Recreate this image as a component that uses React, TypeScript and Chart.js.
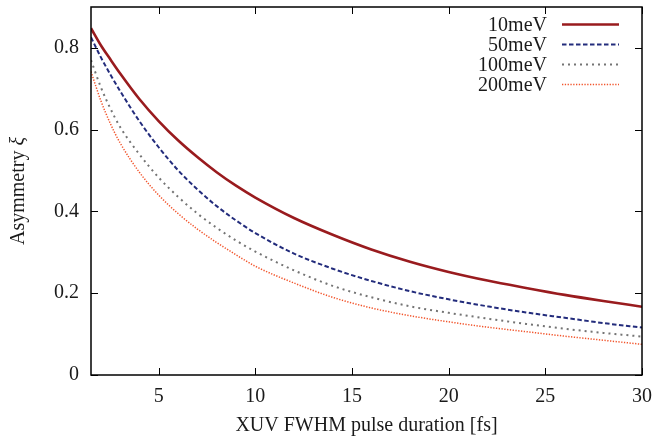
import React, { useEffect, useRef } from "react";
import { Chart, registerables } from "chart.js";

Chart.register(...registerables);

const xValues = [1.5, 2, 2.5, 3, 4, 5, 6, 7, 8, 9, 10, 12, 14, 16, 18, 20, 22, 24, 26, 28, 30];
const series10 = [0.848, 0.807, 0.772, 0.738, 0.675, 0.621, 0.574, 0.533, 0.496, 0.463, 0.434, 0.384, 0.343, 0.307, 0.277, 0.252, 0.231, 0.213, 0.196, 0.181, 0.167];
const series50 = [0.826, 0.778, 0.735, 0.695, 0.621, 0.557, 0.501, 0.454, 0.413, 0.378, 0.347, 0.297, 0.26, 0.23, 0.205, 0.185, 0.168, 0.153, 0.14, 0.127, 0.116];
const series100 = [0.77, 0.705, 0.652, 0.607, 0.54, 0.483, 0.436, 0.395, 0.36, 0.329, 0.302, 0.256, 0.218, 0.19, 0.168, 0.152, 0.138, 0.125, 0.113, 0.103, 0.094];
const series200 = [0.742, 0.672, 0.615, 0.568, 0.496, 0.44, 0.395, 0.357, 0.324, 0.294, 0.266, 0.225, 0.19, 0.164, 0.145, 0.13, 0.117, 0.106, 0.095, 0.085, 0.075];
const seriesLabels = ["10meV", "50meV", "100meV", "200meV"];
const xTicks = [5, 10, 15, 20, 25, 30];
const yTicks = [0, 0.2, 0.4, 0.6, 0.8];
const yTickLabels = ["0", "0.2", "0.4", "0.6", "0.8"];
const xTitle = "XUV FWHM pulse duration [fs]";
const yTitleText = "Asymmetry ";
const yTitleSymbol = "ξ";

const FONT = "'Liberation Serif', 'DejaVu Serif', serif";
const TEXT = "#1a1a1a";

const frameAndTicks = {
  id: "frameAndTicks",
  afterDatasetsDraw(chart: any) {
    const { ctx, chartArea } = chart;
    const { left, right, top, bottom } = chartArea;
    const xs = chart.scales.x;
    const ys = chart.scales.y;
    const len = 7;
    ctx.save();
    ctx.strokeStyle = "#000";
    ctx.lineWidth = 1;
    ctx.beginPath();
    xs.ticks.forEach((t: any) => {
      const px = Math.round(xs.getPixelForValue(t.value)) + 0.5;
      ctx.moveTo(px, bottom);
      ctx.lineTo(px, bottom - len);
      ctx.moveTo(px, top);
      ctx.lineTo(px, top + len);
    });
    ys.ticks.forEach((t: any) => {
      const py = Math.round(ys.getPixelForValue(t.value)) + 0.5;
      ctx.moveTo(left, py);
      ctx.lineTo(left + len, py);
      ctx.moveTo(right, py);
      ctx.lineTo(right - len, py);
    });
    ctx.stroke();
    ctx.lineWidth = 1.5;
    ctx.strokeRect(left, top, right - left, bottom - top);
    ctx.restore();
  },
};

const customLegend = {
  id: "customLegend",
  afterDraw(chart: any) {
    const { ctx } = chart;
    ctx.save();
    ctx.font = `20px ${FONT}`;
    ctx.textAlign = "right";
    ctx.textBaseline = "middle";
    chart.data.datasets.forEach((ds: any, i: number) => {
      const y = 24.5 + i * 20;
      ctx.fillStyle = TEXT;
      ctx.fillText(ds.label, 547, y + 1);
      ctx.beginPath();
      ctx.strokeStyle = ds.borderColor;
      ctx.lineWidth = ds.borderWidth;
      ctx.setLineDash(ds.borderDash || []);
      ctx.moveTo(562, y);
      ctx.lineTo(619, y);
      ctx.stroke();
      ctx.setLineDash([]);
    });
    ctx.restore();
  },
};

const yTitlePlugin = {
  id: "yTitlePlugin",
  afterDraw(chart: any) {
    const { ctx, chartArea } = chart;
    const cy = (chartArea.top + chartArea.bottom) / 2;
    ctx.save();
    ctx.translate(19, cy);
    ctx.rotate(-Math.PI / 2);
    ctx.textBaseline = "middle";
    ctx.textAlign = "left";
    ctx.fillStyle = TEXT;
    ctx.font = `20px ${FONT}`;
    const w1 = ctx.measureText(yTitleText).width;
    ctx.font = `italic 20px ${FONT}`;
    const w2 = ctx.measureText(yTitleSymbol).width;
    const start = -(w1 + w2) / 2;
    ctx.font = `20px ${FONT}`;
    ctx.fillText(yTitleText, start, 0);
    ctx.font = `italic 20px ${FONT}`;
    ctx.fillText(yTitleSymbol, start + w1, 0);
    ctx.restore();
  },
};

export default function App() {
  const canvasRef = useRef<HTMLCanvasElement | null>(null);

  useEffect(() => {
    if (!canvasRef.current) return;
    const mk = (ys: number[]) => xValues.map((x, i) => ({ x, y: ys[i] }));
    const chart = new Chart(canvasRef.current, {
      type: "line",
      data: {
        datasets: [
          {
            label: seriesLabels[0],
            data: mk(series10),
            borderColor: "#991b1e",
            borderWidth: 2.6,
            borderDash: [],
          },
          {
            label: seriesLabels[1],
            data: mk(series50),
            borderColor: "#232c7c",
            borderWidth: 2,
            borderDash: [4.5, 2.5],
          },
          {
            label: seriesLabels[2],
            data: mk(series100),
            borderColor: "#747474",
            borderWidth: 2,
            borderDash: [2, 4],
          },
          {
            label: seriesLabels[3],
            data: mk(series200),
            borderColor: "#f2552c",
            borderWidth: 1.5,
            borderDash: [1.3, 1.5],
          },
        ] as any,
      },
      options: {
        animation: false,
        responsive: false,
        devicePixelRatio: 1,
        layout: { padding: { left: 0, right: 12, top: 7, bottom: 0 } },
        elements: {
          point: { radius: 0 },
          line: { cubicInterpolationMode: "monotone", fill: false, borderJoinStyle: "round", borderCapStyle: "butt" },
        },
        plugins: {
          legend: { display: false },
          tooltip: { enabled: false },
        },
        scales: {
          x: {
            type: "linear",
            min: 1.5,
            max: 30,
            grid: { display: false, drawTicks: false },
            border: { display: false },
            afterBuildTicks: (s: any) => {
              s.ticks = xTicks.map((v) => ({ value: v }));
            },
            afterFit: (s: any) => {
              s.height = 64;
              s.paddingLeft = 0;
              s.paddingRight = 0;
              s.paddingTop = 0;
              s.paddingBottom = 0;
            },
            ticks: {
              padding: 10,
              maxRotation: 0,
              autoSkip: false,
              color: TEXT,
              font: { family: FONT, size: 20 },
              callback: (v: any) => String(v),
            },
            title: {
              display: true,
              text: xTitle,
              color: TEXT,
              font: { family: FONT, size: 20 },
              padding: { top: 0, bottom: 1 },
            },
          },
          y: {
            type: "linear",
            min: 0,
            max: 0.9,
            grid: { display: false, drawTicks: false },
            border: { display: false },
            afterBuildTicks: (s: any) => {
              s.ticks = yTicks.map((v) => ({ value: v }));
            },
            afterFit: (s: any) => {
              s.width = 91;
              s.paddingLeft = 0;
              s.paddingRight = 0;
              s.paddingTop = 0;
              s.paddingBottom = 0;
            },
            ticks: {
              padding: 12,
              autoSkip: false,
              color: TEXT,
              font: { family: FONT, size: 20 },
              callback: (v: any) => {
                const i = yTicks.findIndex((t) => Math.abs(t - v) < 1e-9);
                return i >= 0 ? yTickLabels[i] : "";
              },
            },
          },
        },
      } as any,
      plugins: [frameAndTicks, customLegend, yTitlePlugin],
    });
    return () => chart.destroy();
  }, []);

  return (
    <div style={{ position: "absolute", left: 0, top: 0, width: 654, height: 439, background: "#fff" }}>
      <canvas ref={canvasRef} width={654} height={439} style={{ display: "block" }} />
    </div>
  );
}
